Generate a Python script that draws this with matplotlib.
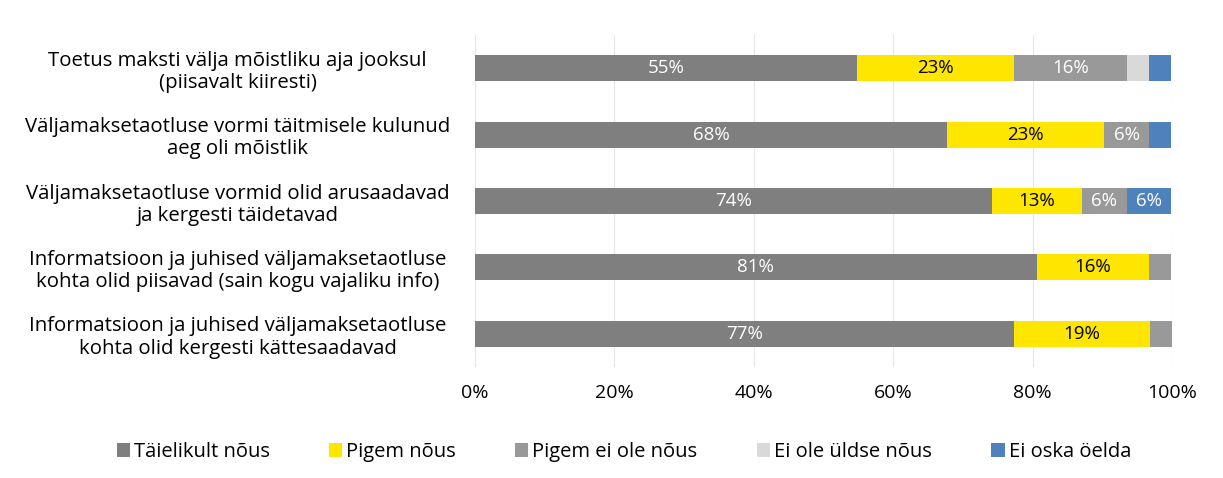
import matplotlib
matplotlib.use("Agg")
import matplotlib.pyplot as plt
import numpy as np

categories = [
    "Toetus maksti välja mõistliku aja jooksul\n(piisavalt kiiresti)",
    "Väljamaksetaotluse vormi täitmisele kulunud\naeg oli mõistlik",
    "Väljamaksetaotluse vormid olid arusaadavad\nja kergesti täidetavad",
    "Informatsioon ja juhised väljamaksetaotluse\nkohta olid piisavad (sain kogu vajaliku info)",
    "Informatsioon ja juhised väljamaksetaotluse\nkohta olid kergesti kättesaadavad",
]
series_names = ["Täielikult nõus", "Pigem nõus", "Pigem ei ole nõus", "Ei ole üldse nõus", "Ei oska öelda"]
taielikult = [54.8, 67.7, 74.2, 80.6, 77.4]
pigem_nous = [22.6, 22.6, 12.9, 16.1, 19.4]
pigem_ei = [16.1, 6.4, 6.4, 3.2, 3.2]
ei_ules = [3.2, 0.0, 0.0, 0.0, 0.0]
ei_oska = [3.2, 3.2, 6.4, 0.0, 0.0]
xticks = [0, 20, 40, 60, 80, 100]
xticklabels = ["0%", "20%", "40%", "60%", "80%", "100%"]

series = [taielikult, pigem_nous, pigem_ei, ei_ules, ei_oska]
colors = ["#7F7F80", "#FFE600", "#999999", "#D9D9D9", "#4F81BD"]
label_colors = ["white", "black", "white", "black", "white"]

plt.rcParams['font.family'] = ['Open Sans', 'DejaVu Sans']

fig = plt.figure(figsize=(12.23, 4.78), dpi=100)
ax = fig.add_axes([475/1223, 1-367/478, (1172-475)/1223, 332/478])

y = np.arange(len(categories))
left = np.zeros(len(categories))
handles = []
for vals, col, lc, name in zip(series, colors, label_colors, series_names):
    vals = np.array(vals)
    bars = ax.barh(y, vals, left=left, height=0.39, color=col, label=name, zorder=3)
    handles.append(bars)
    for yi, (l, v) in enumerate(zip(left, vals)):
        if v >= 5:
            ax.text(l + v/2, yi, f"{v:.0f}%", ha="center", va="center",
                    color=lc, fontsize=13.5, zorder=4)
    left = left + vals

ax.set_xlim(0, 100)
ax.set_ylim(4.5, -0.5)
ax.set_yticks(y)
ax.set_yticklabels(categories, fontsize=14.7, ha="center", linespacing=1.15)
ax.tick_params(axis="y", length=0, pad=171)
ax.set_xticks(xticks)
ax.set_xticklabels(xticklabels, fontsize=14)
ax.tick_params(axis="x", length=0, pad=12)
ax.grid(axis="x", color="#E6E6E6", linewidth=0.8, zorder=0)
for s in ax.spines.values():
    s.set_visible(False)

fig.legend(handles=handles, labels=series_names, loc="center", ncol=5,
           bbox_to_anchor=(0.510, 0.054), frameon=False, fontsize=14.5,
           handlelength=0.65, handleheight=0.65, handletextpad=0.2, columnspacing=2.95)

fig.savefig("out.png", dpi=100)
